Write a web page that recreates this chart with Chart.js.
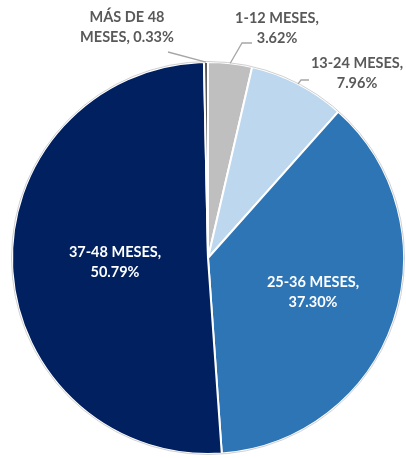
<!DOCTYPE html>
<html>
<head>
<meta charset="utf-8">
<script src="https://cdn.jsdelivr.net/npm/chart.js@4"></script>
<style>
html,body{margin:0;padding:0;background:#fff;}
#wrap{width:406px;height:458px;position:relative;}
</style>
</head>
<body>
<div id="wrap"><canvas id="c" width="406" height="458"></canvas></div>
<script>
const categories = ["1-12 MESES", "13-24 MESES", "25-36 MESES", "37-48 MESES", "MÁS DE 48 MESES"];
const values = [3.62, 7.96, 37.30, 50.79, 0.33];
const valueLabels = ["3.62%", "7.96%", "37.30%", "50.79%", "0.33%"];
const colors = ["#BFBFBF", "#BDD7EE", "#2E75B6", "#002060", "#595959"];

// label layout (style): line texts, anchor offset from pie center, text colour, leader bend points relative to center
const labelLines = [
  ["1-12 MESES,", "3.62%"],
  ["13-24 MESES,", "7.96%"],
  ["25-36 MESES,", "37.30%"],
  ["37-48 MESES,", "50.79%"],
  ["MÁS DE 48", "MESES, 0.33%"]
];
const labelStyle = [
  {dx: 69, dy: -230, color: "#595959", leader: [[34, -215], [44, -215]]},
  {dx: 149, dy: -185, color: "#595959", leader: [[93, -178], [101, -178]]},
  {dx: 105, dy: 34, color: "#FFFFFF"},
  {dx: -93, dy: 4, color: "#FFFFFF"},
  {dx: -81, dy: -231, color: "#595959", leader: [[-40, -206]]}
];

const labelPlugin = {
  id: 'pieLabels',
  afterDatasetsDraw(chart) {
    const ctx = chart.ctx;
    const meta = chart.getDatasetMeta(0);
    const first = meta.data[0];
    const cx = first.x, cy = first.y, R = first.outerRadius;
    ctx.save();
    ctx.beginPath();
    ctx.arc(cx, cy, R + 0.5, 0, Math.PI * 2);
    ctx.strokeStyle = "#D0D0D0";
    ctx.lineWidth = 1;
    ctx.stroke();
    ctx.restore();

    meta.data.forEach((arc, i) => {
      const st = labelStyle[i];
      const mid = (arc.startAngle + arc.endAngle) / 2;
      if (st.leader) {
        ctx.save();
        ctx.beginPath();
        ctx.moveTo(cx + Math.cos(mid) * R, cy + Math.sin(mid) * R);
        st.leader.forEach(p => ctx.lineTo(cx + p[0], cy + p[1]));
        ctx.strokeStyle = "#A6A6A6";
        ctx.lineWidth = 1.3;
        ctx.stroke();
        ctx.restore();
      }
      ctx.save();
      ctx.font = "bold 14.5px Lato, 'Open Sans', sans-serif";
      ctx.fillStyle = st.color;
      ctx.textAlign = "center";
      ctx.textBaseline = "middle";
      const lines = labelLines[i];
      const lh = 20;
      const x = cx + st.dx, y = cy + st.dy;
      lines.forEach((t, k) => {
        ctx.fillText(t, x, y + (k - (lines.length - 1) / 2) * lh);
      });
      ctx.restore();
    });
  }
};

new Chart(document.getElementById('c'), {
  type: 'pie',
  data: {
    labels: categories,
    datasets: [{
      data: values,
      backgroundColor: colors,
      borderColor: "#FFFFFF",
      borderWidth: 2
    }]
  },
  options: {
    responsive: false,
    animation: false,
    radius: 196,
    layout: {padding: {left: 10, right: 0, top: 58, bottom: 0}},
    plugins: {legend: {display: false}, tooltip: {enabled: false}}
  },
  plugins: [labelPlugin]
});
</script>
</body>
</html>
